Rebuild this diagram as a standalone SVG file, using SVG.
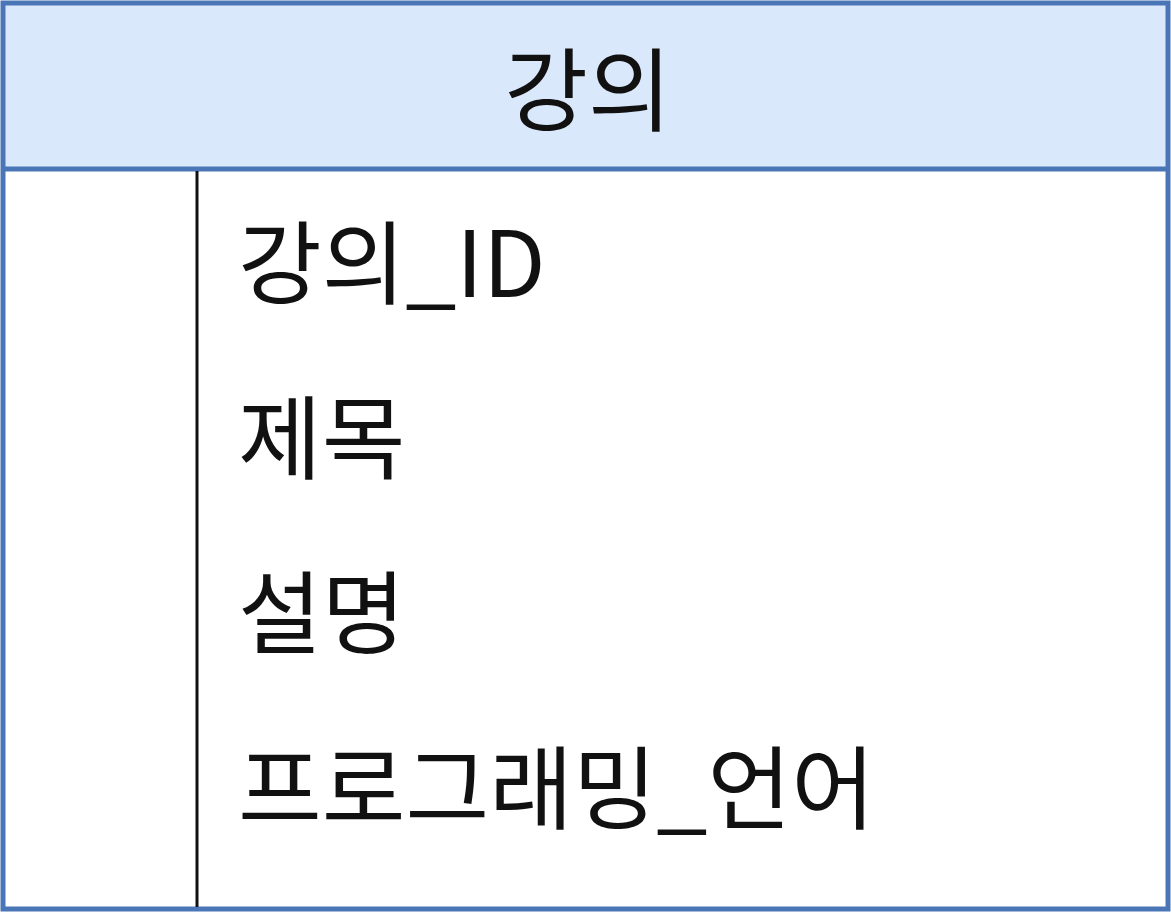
<svg xmlns="http://www.w3.org/2000/svg" width="1171" height="912" viewBox="0 0 1171 912">
<style>
.t{font-family:"Noto Sans CJK KR","Noto Sans",sans-serif;font-size:91px;fill:#111}
</style>
<rect width="1171" height="912" fill="#ffffff"/>
<g id="entity">
<rect x="3" y="3" width="1165" height="166" fill="#dae8fc"/>
<rect x="3" y="169" width="1165" height="740" fill="#ffffff"/>
<rect x="3" y="3" width="1165" height="906" fill="none" stroke="#4a76b8" stroke-width="5"/>
<line x1="3" y1="169" x2="1168" y2="169" stroke="#4a76b8" stroke-width="5"/>
<line x1="197" y1="171" x2="197" y2="907" stroke="#111" stroke-width="3"/>
<text class="t" x="588" y="124" text-anchor="middle">강의</text>
<text class="t" x="238" y="297">강의_ID</text>
<text class="t" x="238" y="472">제목</text>
<text class="t" x="238" y="647">설명</text>
<text class="t" x="238" y="822">프로그래밍_언어</text>
</g>
</svg>
